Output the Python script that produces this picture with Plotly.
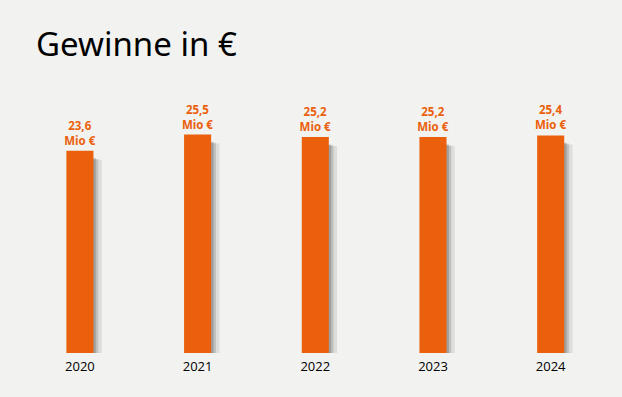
import plotly.graph_objects as go

years = ["2020", "2021", "2022", "2023", "2024"]
profits = [23.6, 25.5, 25.2, 25.2, 25.4]
labels = ["23,6<br>Mio €", "25,5<br>Mio €", "25,2<br>Mio €", "25,2<br>Mio €", "25,4<br>Mio €"]

ORANGE = "#EA600C"
BG = "#F2F2F0"
BW = 0.23

fig = go.Figure()

# soft drop shadow layers
for dx, dy, alpha, extra in [(0.05, 0.75, 0.10, 0.02), (0.04, 0.65, 0.16, 0.0), (0.03, 0.55, 0.22, -0.01)]:
    fig.add_trace(go.Bar(
        x=years, y=[v - dy for v in profits], base=-0.3,
        width=BW + extra, offset=-BW / 2 + dx,
        marker=dict(color=f"rgba(40,40,40,{alpha})", line=dict(width=0)),
        hoverinfo="skip", showlegend=False,
    ))

fig.add_trace(go.Bar(
    x=years, y=profits, width=BW, offset=-BW / 2,
    marker=dict(color=ORANGE, line=dict(width=0)),
    text=labels, textposition="outside", cliponaxis=False, constraintext="none",
    textfont=dict(family="Open Sans", size=11.5, color=ORANGE, weight="bold"),
    showlegend=False,
))

fig.update_layout(
    width=622, height=397,
    barmode="overlay",
    paper_bgcolor=BG, plot_bgcolor=BG,
    margin=dict(l=0, r=0, t=96, b=44),
    title=dict(text="Gewinne in €", x=36 / 622, xanchor="left", y=1 - 56 / 397, yanchor="bottom",
               font=dict(family="Noto Sans", size=33, color="#000000")),
    xaxis=dict(type="category", range=[-0.679, 4.606], showgrid=False, zeroline=False,
               showline=False, ticks="", ticklabelstandoff=4,
               tickfont=dict(family="Open Sans", size=13, color="#000000")),
    yaxis=dict(range=[0, 30], visible=False, showgrid=False, zeroline=False),
)

fig.write_html("out.html", config={"displayModeBar": False},
               post_script="document.body.style.margin='0';")
